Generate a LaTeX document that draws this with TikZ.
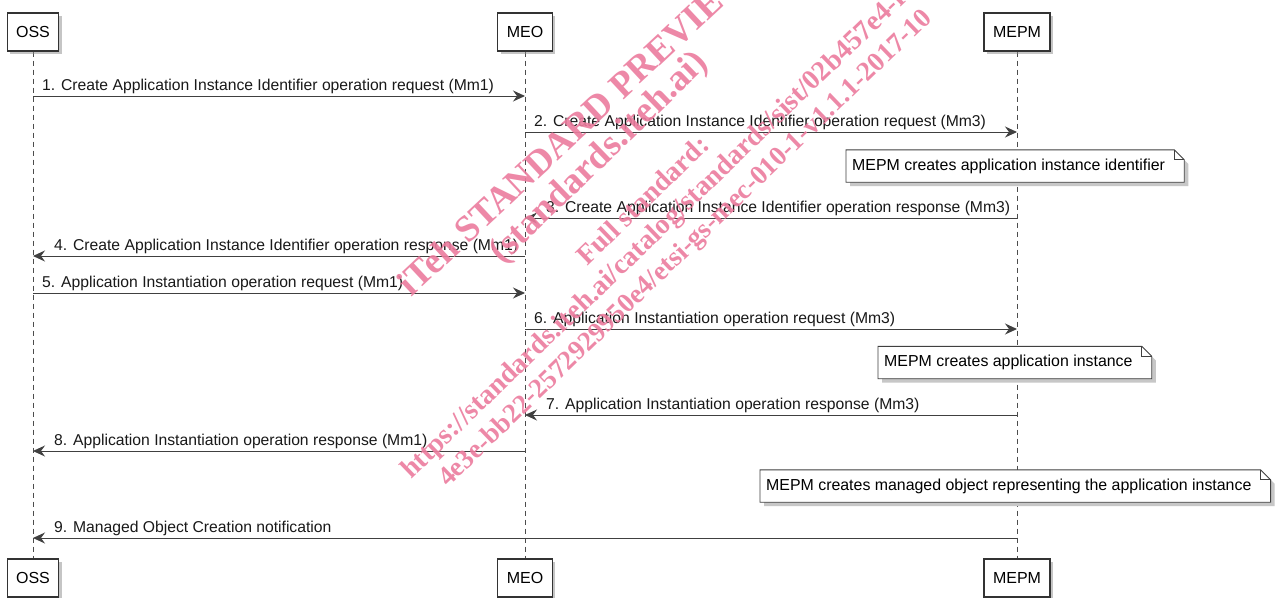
\documentclass[tikz,border=0pt]{standalone}
\usepackage{fontspec}
\setmainfont{Liberation Sans}
\newfontfamily\wmfont{Liberation Serif}
\usetikzlibrary{arrows.meta,shadows,calc}
\definecolor{ln}{HTML}{404040}
\definecolor{wmpink}{HTML}{EC7C9E}
\pgfdeclarelayer{bg}
\pgfdeclarelayer{lines}
\pgfdeclarelayer{notes}
\pgfsetlayers{bg,lines,notes,main}
\newcommand\drawnote[1]{%
  \fill[black!22] ($(#1.north west)+(4,4)$) -- ($(#1.north east)+(-6,4)$) -- ($(#1.north east)+(4,14)$) -- ($(#1.south east)+(4,4)$) -- ($(#1.south west)+(4,4)$) -- cycle;
  \filldraw[notefill] (#1.north west) -- ($(#1.north east)+(-10,0)$) -- ($(#1.north east)+(0,10)$) -- (#1.south east) -- (#1.south west) -- cycle;
  \draw[notefill,fill=none] ($(#1.north east)+(-10,0)$) |- ($(#1.north east)+(0,10)$);
}
\begin{document}
\begin{tikzpicture}[x=1pt,y=-1pt,
  part/.style={draw=black!80, line width=1.2pt, fill=white, font=\fontsize{16}{19}\selectfont,
    inner xsep=9pt, minimum height=38pt,
    drop shadow={shadow xshift=3pt,shadow yshift=-3pt,fill=black!45,opacity=.5}},
  life/.style={draw=black!70, line width=0.9pt, dash pattern=on 5pt off 4pt},
  msg/.style={draw=ln, line width=1pt, -{Stealth[length=12pt,width=11pt,inset=4pt]}},
  lbl/.style={anchor=base west, font=\fontsize{15.7}{18}\selectfont, text=black!90, inner sep=0pt},
  notetext/.style={anchor=west, font=\fontsize{15.9}{18}\selectfont, inner xsep=6pt, inner ysep=0pt, minimum height=32pt},
  notefill/.style={fill=white, draw=black!75, line width=0.9pt},
  wmsmall/.style={text=wmpink, font=\wmfont\bfseries\fontsize{28}{30}\selectfont, rotate=44, anchor=base west, inner sep=0pt, opacity=0.9},
  wmbig/.style={text=wmpink, font=\wmfont\bfseries\fontsize{37}{40}\selectfont, rotate=43, anchor=base west, inner sep=0pt, opacity=0.9}
]
\useasboundingbox (0,0) rectangle (1276,597);
\begin{pgfonlayer}{bg}
\fill[white] (0,0) rectangle (1276,597);
\end{pgfonlayer}

% participants
\node[part] (ossT) at (33,32) {OSS};
\node[part] (meoT) at (525,32) {MEO};
\node[part] (mepmT) at (1017,32) {MEPM};
\node[part] (ossB) at (33,578) {OSS};
\node[part] (meoB) at (525,578) {MEO};
\node[part] (mepmB) at (1017,578) {MEPM};

\begin{pgfonlayer}{lines}
\draw[life] (ossT.south) -- (ossB.north);
\draw[life] (meoT.south) -- (meoB.north);
\draw[life] (mepmT.south) -- (mepmB.north);
\end{pgfonlayer}

% message endpoints
\coordinate (o1) at (33,96);   \coordinate (m1) at (525,96);
\coordinate (m2) at (525,132); \coordinate (p2) at (1017,132);
\coordinate (p3) at (1017,218); \coordinate (m3) at (525,218);
\coordinate (m4) at (525,256); \coordinate (o4) at (33,256);
\coordinate (o5) at (33,293);  \coordinate (m5) at (525,293);
\coordinate (m6) at (525,329); \coordinate (p6) at (1017,329);
\coordinate (p7) at (1017,415); \coordinate (m7) at (525,415);
\coordinate (m8) at (525,451); \coordinate (o8) at (33,451);
\coordinate (p9) at (1017,538); \coordinate (o9) at (33,538);

\draw[msg] (o1) -- (m1);
\node[lbl] (t1) at ($(o1)+(9,-5.5)$) {1. Create Application Instance Identifier operation request (Mm1)};
\draw[msg] (m2) -- (p2);
\node[lbl] (t2) at ($(m2)+(9,-5.5)$) {2. Create Application Instance Identifier operation request (Mm3)};
\draw[msg] (p3) -- (m3);
\node[lbl] (t3) at ($(m3)+(21,-5.5)$) {3. Create Application Instance Identifier operation response (Mm3)};
\draw[msg] (m4) -- (o4);
\node[lbl] (t4) at ($(o4)+(21,-5.5)$) {4. Create Application Instance Identifier operation response (Mm1)};
\draw[msg] (o5) -- (m5);
\node[lbl] (t5) at ($(o5)+(9,-5.5)$) {5. Application Instantiation operation request (Mm1)};
\draw[msg] (m6) -- (p6);
\node[lbl] (t6) at ($(m6)+(9,-5.5)$) {6. Application Instantiation operation request (Mm3)};
\draw[msg] (p7) -- (m7);
\node[lbl] (t7) at ($(m7)+(21,-5.5)$) {7. Application Instantiation operation response (Mm3)};
\draw[msg] (m8) -- (o8);
\node[lbl] (t8) at ($(o8)+(21,-5.5)$) {8. Application Instantiation operation response (Mm1)};
\draw[msg] (p9) -- (o9);
\node[lbl] (t9) at ($(o9)+(21,-5.5)$) {9. Managed Object Creation notification};

% notes
\node[notetext] (n1) at (846,166) {MEPM creates application instance identifier\kern13pt};
\node[notetext] (n2) at (878,362.5) {MEPM creates application instance\kern13pt};
\node[notetext] (n3) at (760,486) {MEPM creates managed object representing the application instance\kern13pt};
\begin{pgfonlayer}{notes}
\drawnote{n1}
\drawnote{n2}
\drawnote{n3}
\end{pgfonlayer}

% watermark
\begin{scope}
\clip (0,0) rectangle (1276,597);
\node[wmbig] (w1) at (411,298) {iTeh STANDARD PREVIEW};
\node[wmbig, rotate=1] (w2) at (502,265) {(standards.iteh.ai)};
\node[wmsmall] (w3) at (587,267) {Full standard:};
\node[wmsmall] (w4) at (411,480) {https://standards.iteh.ai/catalog/standards/sist/02b457e4-fa4a-};
\node[wmsmall, font=\wmfont\bfseries\fontsize{27.2}{30}\selectfont] (w5) at (448,488) {4e3e-bb22-2572929950e4/etsi-gs-mec-010-1-v1.1.1-2017-10};
\end{scope}
\end{tikzpicture}
\end{document}
